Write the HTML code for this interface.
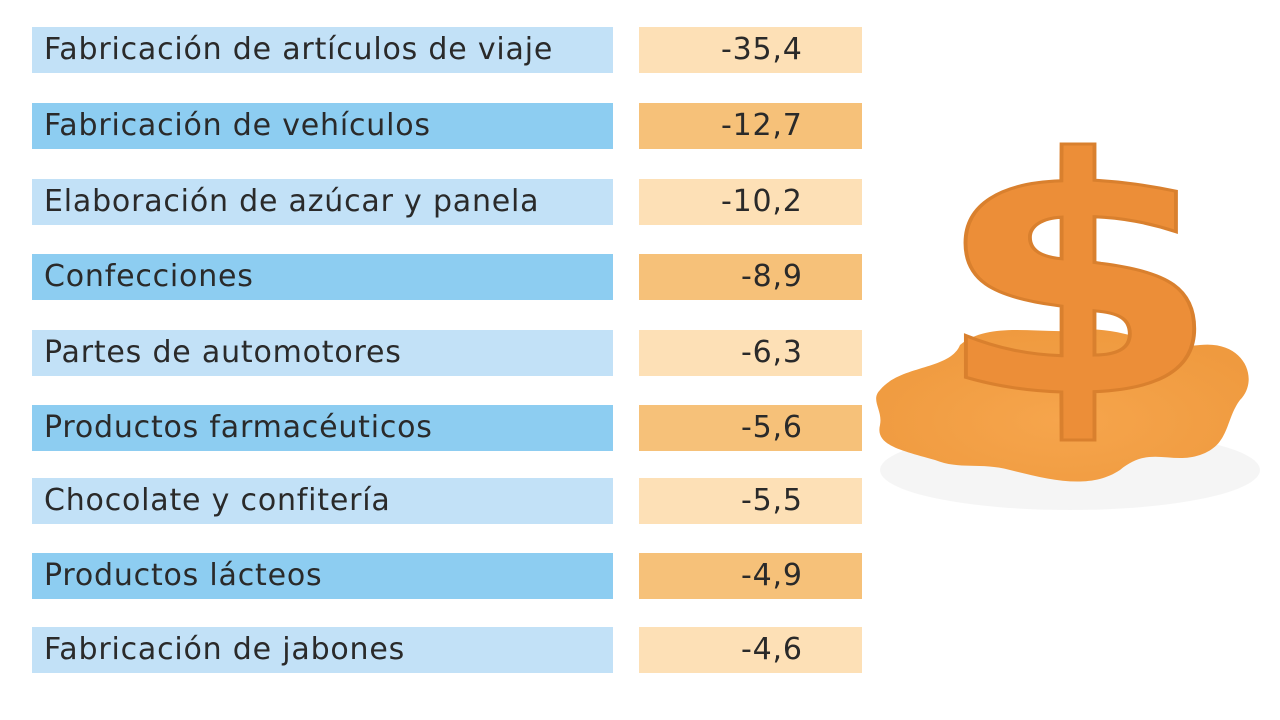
<!DOCTYPE html>
<html><head><meta charset="utf-8"><style>
body{margin:0;width:1280px;height:720px;background:#fff;position:relative;overflow:hidden;font-family:"DejaVu Sans","Liberation Sans",sans-serif;}
.l,.v{position:absolute;height:46px;line-height:46px;font-size:30px;letter-spacing:0.8px;color:#2a2a2a;}
.l{left:32px;width:569px;padding-left:12px;}
.v{left:639px;width:223px;text-align:left;}
.v span{position:absolute;left:82px;}
.a{background:#c2e1f7}.b{background:#8dcdf1}
.c{background:#fde0b6}.d{background:#f6c179}
</style></head><body>
<div class="l a" style="top:27px">Fabricación de artículos de viaje</div><div class="v c" style="top:27px"><span>-35,4</span></div>
<div class="l b" style="top:103px">Fabricación de vehículos</div><div class="v d" style="top:103px"><span>-12,7</span></div>
<div class="l a" style="top:179px">Elaboración de azúcar y panela</div><div class="v c" style="top:179px"><span>-10,2</span></div>
<div class="l b" style="top:254px">Confecciones</div><div class="v d" style="top:254px"><span style="left:102px">-8,9</span></div>
<div class="l a" style="top:330px">Partes de automotores</div><div class="v c" style="top:330px"><span style="left:102px">-6,3</span></div>
<div class="l b" style="top:405px">Productos farmacéuticos</div><div class="v d" style="top:405px"><span style="left:102px">-5,6</span></div>
<div class="l a" style="top:478px">Chocolate y confitería</div><div class="v c" style="top:478px"><span style="left:102px">-5,5</span></div>
<div class="l b" style="top:553px">Productos lácteos</div><div class="v d" style="top:553px"><span style="left:102px">-4,9</span></div>
<div class="l a" style="top:627px">Fabricación de jabones</div><div class="v c" style="top:627px"><span style="left:102px">-4,6</span></div>
<svg style="position:absolute;left:0;top:0" width="1280" height="720">
<defs><radialGradient id="g" cx="0.5" cy="0.6" r="0.6"><stop offset="0" stop-color="#f6a54c"/><stop offset="1" stop-color="#ef9a3f"/></radialGradient></defs>
<ellipse cx="1070" cy="470" rx="190" ry="40" fill="#eee" opacity="0.6"/>
<path d="M880,390 C900,365 950,370 960,345 C990,320 1040,335 1080,330 C1120,325 1160,350 1200,345 C1245,340 1260,380 1240,400 C1225,420 1230,445 1200,455 C1170,465 1150,445 1120,470 C1090,490 1050,480 1010,470 C980,462 960,470 935,460 C900,450 875,445 880,425 C883,410 870,400 880,390 Z" fill="url(#g)"/>
<text x="0" y="0" transform="translate(933,392) scale(1.3,1.02)" font-family="DejaVu Sans" font-weight="bold" font-size="320" fill="#ec8e38" stroke="#d9802e" stroke-width="3">$</text>
</svg>
</body></html>
